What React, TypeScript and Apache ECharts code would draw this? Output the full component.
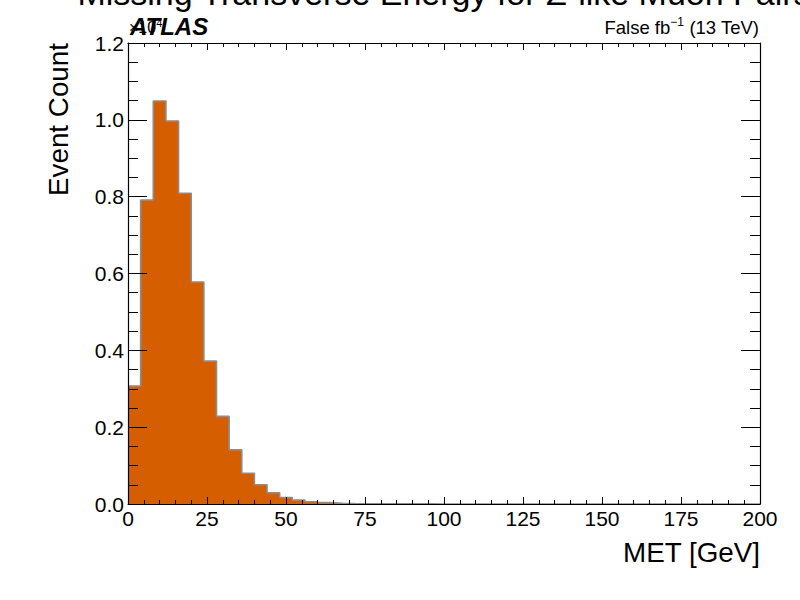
import React, { useEffect, useRef } from "react";
import * as echarts from "echarts";

// bin edges of the MET histogram [GeV]
const binEdges = [
  0, 4, 8, 12, 16, 20, 24, 28, 32, 36, 40, 44, 48, 52, 56, 60, 64, 68, 72, 76,
  80, 84, 88, 92, 96, 100, 104, 108, 112, 116, 120, 124, 128, 132, 136, 140,
  144, 148, 152, 156, 160, 164, 168, 172, 176, 180, 184, 188, 192, 196, 200,
];

// event counts per bin, in units of 10^4
const binCounts = [
  0.307, 0.791, 1.049, 0.997, 0.809, 0.578, 0.372, 0.228, 0.141, 0.08,
  0.05, 0.029, 0.017, 0.01, 0.006, 0.0035, 0.002, 0.0013, 0.0008, 0.0005,
  0.0004, 0.0003, 0.0002, 0.0002, 0.0001, 0.0001, 0.0001, 0.0001, 0, 0.0001,
  0, 0, 0.0001, 0, 0, 0, 0, 0, 0, 0,
  0, 0, 0, 0, 0, 0, 0, 0, 0, 0,
];

const xTicks = [0, 25, 50, 75, 100, 125, 150, 175, 200];
const yTicks = [0, 0.2, 0.4, 0.6, 0.8, 1.0, 1.2];

const FONT = "'Liberation Sans', 'Helvetica', Arial, sans-serif";

const App = () => {
  const chartRef = useRef<HTMLDivElement>(null);

  useEffect(() => {
    if (!chartRef.current) return;
    const chart = echarts.init(chartRef.current, undefined, { renderer: "svg" });

    const stepData = binCounts.map((c, i) => [binEdges[i], c]);
    stepData.push([binEdges[binEdges.length - 1], binCounts[binCounts.length - 1]]);

    const xStep = xTicks[1] - xTicks[0];
    const yStep = yTicks[1] - yTicks[0];

    const xBase = (pos: "bottom" | "top", showLabel: boolean) => ({
      type: "value" as const,
      position: pos,
      min: xTicks[0],
      max: xTicks[xTicks.length - 1],
      interval: xStep,
      z: 10,
      axisLine: { show: true, onZero: false, lineStyle: { color: "#000", width: 1.2 } },
      axisTick: { show: true, inside: true, length: 7, lineStyle: { color: "#000", width: 1 } },
      minorTick: { show: true, splitNumber: 5, length: 4, lineStyle: { color: "#000", width: 1 } },
      splitLine: { show: false },
      minorSplitLine: { show: false },
      axisLabel: {
        show: showLabel,
        color: "#000",
        fontSize: 21,
        fontFamily: FONT,
        margin: 4,
      },
    });

    const yBase = (pos: "left" | "right", showLabel: boolean) => ({
      type: "value" as const,
      position: pos,
      min: yTicks[0],
      max: yTicks[yTicks.length - 1],
      interval: yStep,
      z: 10,
      axisLine: { show: true, onZero: false, lineStyle: { color: "#000", width: 1.2 } },
      axisTick: { show: true, inside: true, length: 19, lineStyle: { color: "#000", width: 1 } },
      minorTick: { show: true, splitNumber: 4, length: 10, lineStyle: { color: "#000", width: 1 } },
      splitLine: { show: false },
      minorSplitLine: { show: false },
      axisLabel: {
        show: showLabel,
        color: "#000",
        fontSize: 21,
        fontFamily: FONT,
        margin: 4,
        formatter: (v: number) => v.toFixed(1),
      },
    });

    const option: any = {
      animation: false,
      backgroundColor: "#fff",
      grid: { left: 128, right: 40, top: 43, bottom: 96 },
      xAxis: [xBase("bottom", true), xBase("top", false)],
      yAxis: [yBase("left", true), yBase("right", false)],
      series: [
        {
          type: "line",
          xAxisIndex: 0,
          yAxisIndex: 0,
          step: "end",
          symbol: "none",
          data: stepData,
          lineStyle: { color: "#8c8c8c", width: 1.6 },
          areaStyle: { color: "#d55e00", opacity: 1 },
          z: 2,
        },
      ],
      graphic: [
        {
          type: "text",
          x: 444,
          y: -7.5,
          style: {
            text: "Missing Transverse Energy for Z-like Muon Pairs",
            fill: "#000",
            font: `34px ${FONT}`,
            textAlign: "center",
            textVerticalAlign: "middle",
          },
        },
        {
          type: "text",
          x: 130,
          y: 26,
          style: {
            text: "ATLAS",
            fill: "#000",
            font: `italic bold 24px ${FONT}`,
            textAlign: "left",
            textVerticalAlign: "middle",
          },
        },
        {
          type: "text",
          x: 129,
          y: 27,
          style: {
            text: "{a|×10}{s|4}",
            textAlign: "left",
            textVerticalAlign: "middle",
            rich: {
              a: { fontSize: 16, fontFamily: FONT, fill: "#000", lineHeight: 20 },
              s: { fontSize: 11, fontFamily: FONT, fill: "#000", lineHeight: 12, verticalAlign: "top" },
            },
          },
        },
        {
          type: "text",
          x: 759,
          y: 27,
          style: {
            text: "{a|False fb}{s|−1}{a| (13 TeV)}",
            textAlign: "right",
            textVerticalAlign: "middle",
            rich: {
              a: { fontSize: 18.5, fontFamily: FONT, fill: "#000", lineHeight: 22 },
              s: { fontSize: 12, fontFamily: FONT, fill: "#000", lineHeight: 13, verticalAlign: "top" },
            },
          },
        },
        {
          type: "text",
          x: 58.5,
          y: 43,
          rotation: Math.PI / 2,
          style: {
            text: "Event Count",
            fill: "#000",
            font: `27.8px ${FONT}`,
            textAlign: "right",
            textVerticalAlign: "middle",
          },
        },
        {
          type: "text",
          x: 760,
          y: 552.5,
          style: {
            text: "MET [GeV]",
            fill: "#000",
            font: `27.8px ${FONT}`,
            textAlign: "right",
            textVerticalAlign: "middle",
          },
        },
      ],
    };

    chart.setOption(option);

    return () => {
      chart.dispose();
    };
  }, []);

  return (
    <div
      ref={chartRef}
      style={{ position: "fixed", left: 0, top: 0, width: 800, height: 600 }}
    />
  );
};

export default App;
